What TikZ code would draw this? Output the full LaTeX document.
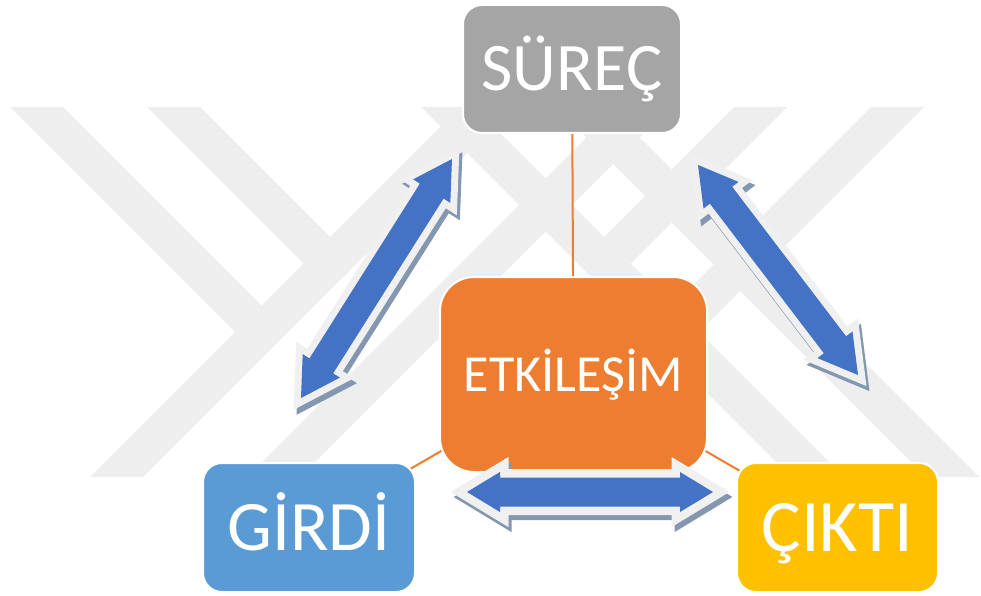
\documentclass[tikz,border=0pt]{standalone}
\usepackage{fontspec}
\setmainfont{Carlito}
\usetikzlibrary{calc}
\definecolor{wm}{HTML}{EEEEEE}
\definecolor{grayc}{HTML}{A5A5A5}
\definecolor{orangec}{HTML}{ED7D31}
\definecolor{bluebox}{HTML}{5B9BD5}
\definecolor{goldc}{HTML}{FFC000}
\definecolor{arrblue}{HTML}{4472C4}
\definecolor{arrout}{HTML}{F0F0F0}
\definecolor{arrshadow}{HTML}{8497B0}
\pgfdeclarelayer{wmark}
\pgfdeclarelayer{links}
\pgfsetlayers{wmark,links,main}
\newcommand\dblarr[5]{(#1) -- ($(#1)!#5!(#2)!#4!90:(#2)$) -- ($(#1)!#5!(#2)!#3!90:(#2)$) -- ($(#2)!#5!(#1)!#3!-90:(#1)$) -- ($(#2)!#5!(#1)!#4!-90:(#1)$) -- (#2) -- ($(#2)!#5!(#1)!#4!90:(#1)$) -- ($(#2)!#5!(#1)!#3!90:(#1)$) -- ($(#1)!#5!(#2)!#3!-90:(#2)$) -- ($(#1)!#5!(#2)!#4!-90:(#2)$) -- cycle}
\tikzset{
  box/.style={rectangle, rounded corners=19pt, draw=white, line width=2pt, text=white, inner sep=0pt, align=center},
  conn/.style={draw=orangec, line width=2pt},
  shad/.style={fill=arrshadow, draw=arrshadow, line join=miter},
  outl/.style={fill=arrout, draw=arrout, line join=miter},
  blu/.style={fill=arrblue},
}
\begin{document}
\begin{tikzpicture}[x=1pt,y=-1pt]
\useasboundingbox (0,0) rectangle (981,596);
\begin{pgfonlayer}{wmark}
\fill[white] (0,0) rectangle (981,596);
\begin{scope}[wm]
\fill (10,107) -- (63,107) -- (261.5,305.5) -- (235,332) -- cycle;
\fill (147,107) -- (200,107) -- (330,237) -- (303.5,263.5) -- cycle;
\fill (90,477) -- (143,477) -- (513,107) -- (460,107) -- cycle;
\fill (247,477) -- (300,477) -- (670,107) -- (617,107) -- cycle;
\fill (924,107) -- (871,107) -- (672.5,305.5) -- (699,332) -- cycle;
\fill (787,107) -- (734,107) -- (604,237) -- (630.5,263.5) -- cycle;
\fill (844,477) -- (791,477) -- (421,107) -- (474,107) -- cycle;
\fill (926,477) -- (979,477) -- (609,107) -- (556,107) -- cycle;
\end{scope}
\end{pgfonlayer}
% nodes
\node[box, fill=grayc, minimum width=218pt, minimum height=128pt,
      font=\fontsize{68}{80}\selectfont, text height=43pt, text depth=0pt] (sur) at (572,69) {SÜREÇ};
\node[box, fill=orangec, minimum width=267pt, minimum height=195pt, rounded corners=34pt,
      font=\fontsize{52}{62}\selectfont, text height=33pt, text depth=0pt] (etk) at (573.5,374.5) {ETKİLEŞİM};
\node[box, fill=bluebox, minimum width=212pt, minimum height=129pt,
      font=\fontsize{71}{84}\selectfont, text height=45pt, text depth=0pt] (gir) at (309,527.5) {GİRDİ};
\node[box, fill=goldc, minimum width=201pt, minimum height=129pt,
      font=\fontsize{74}{88}\selectfont, text height=47pt, text depth=0pt] (cik) at (837.5,527.5) {ÇIKTI};
% connectors behind boxes
\begin{pgfonlayer}{links}
\draw[conn] (sur.center) -- (etk.center);
\draw[conn] (etk.center) -- (gir.center);
\draw[conn] (etk.center) -- (cik.center);
\end{pgfonlayer}
% arrow end points
\coordinate (a1) at (301,398);
\coordinate (a2) at (452,159);
\coordinate (b1) at (698,165);
\coordinate (b2) at (858,375);
\coordinate (c1) at (467,492);
\coordinate (c2) at (713,492);
% shadows
\begin{scope}[transform canvas={xshift=3pt,yshift=-5pt}]
\filldraw[shad, line width=14pt] \dblarr{a1}{a2}{14pt}{22pt}{38pt};
\filldraw[shad, line width=14pt] \dblarr{b1}{b2}{14pt}{22pt}{38pt};
\filldraw[shad, line width=17pt] \dblarr{c1}{c2}{14.5pt}{20pt}{33pt};
\end{scope}
% outlines
\filldraw[outl, line width=14pt] \dblarr{a1}{a2}{14pt}{22pt}{38pt};
\filldraw[outl, line width=14pt] \dblarr{b1}{b2}{14pt}{22pt}{38pt};
\filldraw[outl, line width=17pt] \dblarr{c1}{c2}{14.5pt}{20pt}{33pt};
% blue
\fill[blu] \dblarr{a1}{a2}{14pt}{22pt}{38pt};
\fill[blu] \dblarr{b1}{b2}{14pt}{22pt}{38pt};
\fill[blu] \dblarr{c1}{c2}{14.5pt}{20pt}{33pt};
\end{tikzpicture}
\end{document}
